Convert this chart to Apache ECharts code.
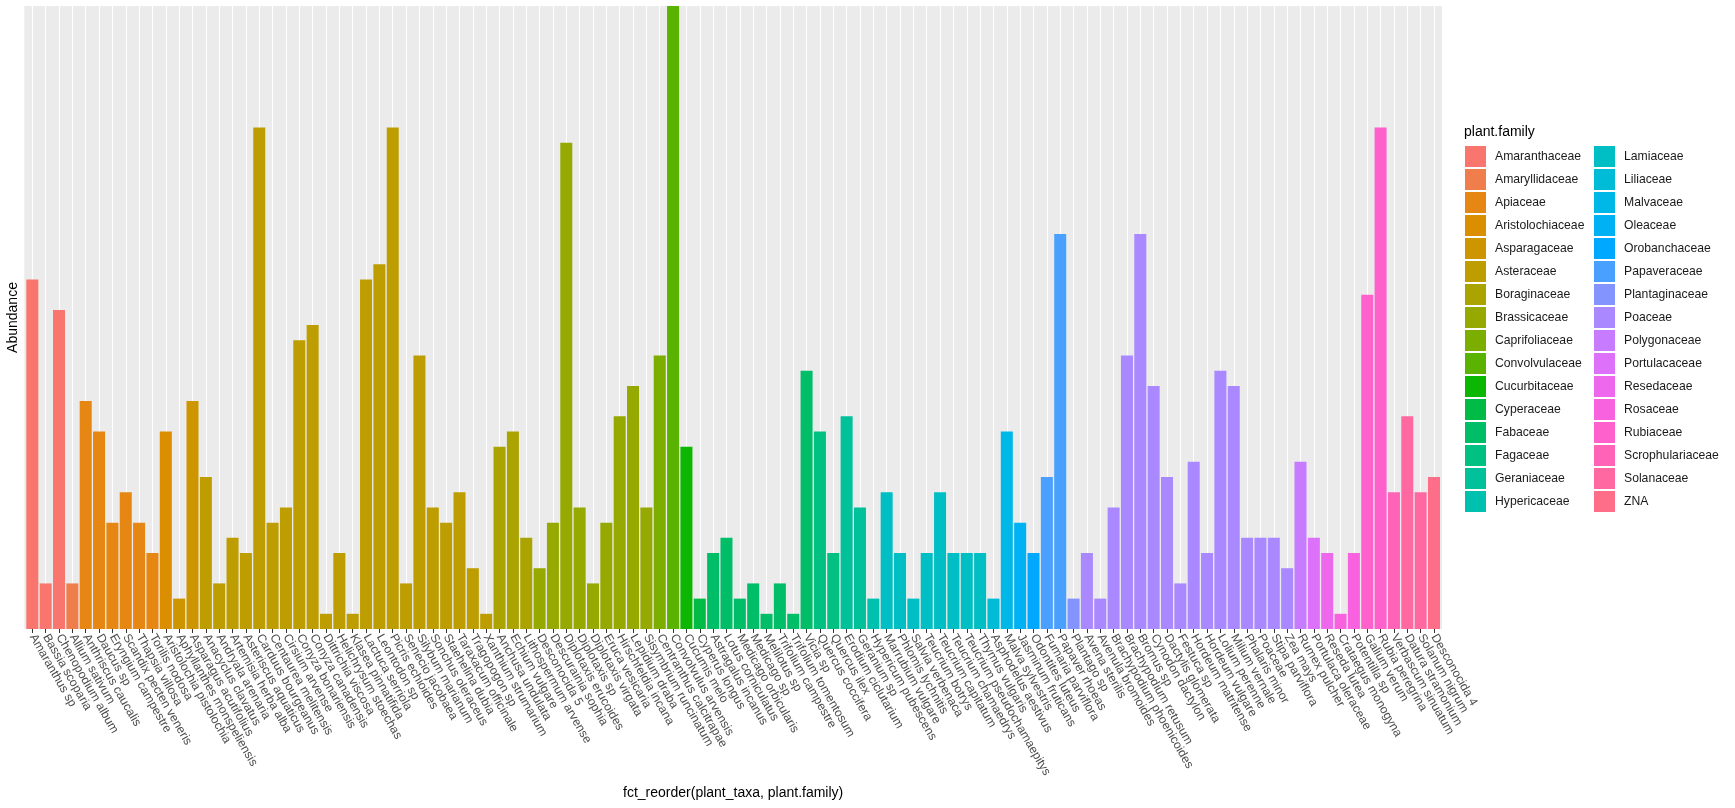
<!DOCTYPE html>
<html>
<head>
<meta charset="utf-8">
<script src="https://cdn.jsdelivr.net/npm/echarts@6/dist/echarts.min.js"></script>
<style>
html,body{margin:0;padding:0;background:#fff;}
#chart{width:1735px;height:808px;}
</style>
</head>
<body>
<div id="chart"></div>
<script>
const taxa = [
"Amaranthus sp","Bassia scoparia","Chenopodium album","Allium sativum",
"Anthriscus caucalis","Daucus sp","Eryngium campestre","Scandix pecten veneris","Thapsia villosa","Torilis nodosa",
"Aristolochia pistolochia","Aphyllanthes monspeliensis","Asparagus acutifolius",
"Anacyclus clavatus","Andryala arenaria","Artemisia herba alba","Asteriscus aquaticus","Carduus bourgeanus","Centaurea melitensis","Cirsium arvense","Conyza bonariensis","Conyza canadensis","Dittrichia viscosa","Helichrysum stoechas","Klasea pinnatifida","Lactuca serriola","Leontodon sp","Picris echioides","Senecio jacobaea","Silybum marianum","Sonchus oleraceus","Staehelina dubia","Taraxacum officinale","Tragopogon sp","Xanthium strumarium",
"Anchusa undulata","Echium vulgare","Lithospermum arvense",
"Desconocida 5","Descurainia sophia","Diplotaxis erucoides","Diplotaxis sp","Diplotaxis virgata","Eruca vesicaria","Hirschfeldia incana","Lepidium draba","Sisymbrium runcinatum",
"Centranthus calcitrapae","Convolvulus arvensis","Cucumis melo","Cyperus longus",
"Astragalus incanus","Lotus corniculatus","Medicago orbicularis","Medicago sp","Melilotus sp","Trifolium campestre","Trifolium tomentosum","Vicia sp",
"Quercus coccifera","Quercus ilex","Erodium ciclutarium","Geranium sp","Hypericum pubescens",
"Marrubium vulgare","Phlomis lychnitis","Salvia verbenaca","Teucrium botrys","Teucrium capitatum","Teucrium chamaedrys","Teucrium pseudochamaepitys","Thymus vulgaris",
"Asphodelus aestivus","Malva sylvestris","Jasminum fruticans","Odontites luteus","Fumaria parviflora","Papaver rhoeas","Plantago sp",
"Avena sterilis","Avenula bromoides","Brachypodium phoenicoides","Brachypodium retusum","Bromus sp","Cynodon dactylon","Dactylis glomerata","Festuca sp","Hordeum matritense","Hordeum vulgare","Lolium perenne","Milium vernale","Phalaris minor","Poaceae","Stipa parviflora","Zea mays",
"Rumex pulcher","Portulaca oleraceae","Reseda lutea","Crataegus monogyna","Potentilla sp","Galium verum","Rubia peregrina","Verbascum sinuatum","Datura stramonium","Solanum nigrum","Desconocida 4"
];

const taxonFamily = [
"Amaranthaceae","Amaranthaceae","Amaranthaceae","Amaryllidaceae",
"Apiaceae","Apiaceae","Apiaceae","Apiaceae","Apiaceae","Apiaceae",
"Aristolochiaceae","Asparagaceae","Asparagaceae",
"Asteraceae","Asteraceae","Asteraceae","Asteraceae","Asteraceae","Asteraceae","Asteraceae","Asteraceae","Asteraceae","Asteraceae","Asteraceae","Asteraceae","Asteraceae","Asteraceae","Asteraceae","Asteraceae","Asteraceae","Asteraceae","Asteraceae","Asteraceae","Asteraceae","Asteraceae",
"Boraginaceae","Boraginaceae","Boraginaceae",
"Brassicaceae","Brassicaceae","Brassicaceae","Brassicaceae","Brassicaceae","Brassicaceae","Brassicaceae","Brassicaceae","Brassicaceae",
"Caprifoliaceae","Convolvulaceae","Cucurbitaceae","Cyperaceae",
"Fabaceae","Fabaceae","Fabaceae","Fabaceae","Fabaceae","Fabaceae","Fabaceae","Fabaceae",
"Fagaceae","Fagaceae","Geraniaceae","Geraniaceae","Hypericaceae",
"Lamiaceae","Lamiaceae","Lamiaceae","Lamiaceae","Lamiaceae","Lamiaceae","Lamiaceae","Lamiaceae",
"Liliaceae","Malvaceae","Oleaceae","Orobanchaceae","Papaveraceae","Papaveraceae","Plantaginaceae",
"Poaceae","Poaceae","Poaceae","Poaceae","Poaceae","Poaceae","Poaceae","Poaceae","Poaceae","Poaceae","Poaceae","Poaceae","Poaceae","Poaceae","Poaceae","Poaceae",
"Polygonaceae","Portulacaceae","Resedaceae","Rosaceae","Rosaceae","Rubiaceae","Rubiaceae","Scrophulariaceae","Solanaceae","Solanaceae","ZNA"
];

const abundance = [
23,3,21,3,
15,13,7,9,7,5,
13,2,15,
10,3,6,5,33,7,8,19,20,1,5,1,23,24,33,3,18,8,7,9,4,1,
12,13,6,
4,7,32,8,3,7,14,16,8,
18,41,12,2,
5,6,2,3,1,3,1,17,
13,5,14,8,2,
9,5,2,5,9,5,5,5,
2,13,7,5,10,26,2,
5,2,8,18,26,16,10,3,11,5,17,16,6,6,6,4,
11,6,5,1,5,22,33,9,14,9,10
];

const families = [
"Amaranthaceae","Amaryllidaceae","Apiaceae","Aristolochiaceae","Asparagaceae","Asteraceae","Boraginaceae","Brassicaceae","Caprifoliaceae","Convolvulaceae","Cucurbitaceae","Cyperaceae","Fabaceae","Fagaceae","Geraniaceae","Hypericaceae",
"Lamiaceae","Liliaceae","Malvaceae","Oleaceae","Orobanchaceae","Papaveraceae","Plantaginaceae","Poaceae","Polygonaceae","Portulacaceae","Resedaceae","Rosaceae","Rubiaceae","Scrophulariaceae","Solanaceae","ZNA"
];

const yMax = 41;

// ggplot2 default hue palette (hcl, c=100, l=65)
function hcl(h, c, l) {
  const WY = 100, WU = 0.1978398, WV = 0.4683363;
  const hr = h * Math.PI / 180;
  const U = c * Math.cos(hr), V = c * Math.sin(hr);
  const Y = WY * (l > 7.999592 ? Math.pow((l + 16) / 116, 3) : l / 903.3);
  const u = U / (13 * l) + WU, v = V / (13 * l) + WV;
  const X = 9 * Y * u / (4 * v);
  const Z = -X / 3 - 5 * Y + 3 * Y / v;
  const g = t => t > 0.00304 ? 1.055 * Math.pow(t, 1 / 2.4) - 0.055 : 12.92 * t;
  const cl = t => Math.round(255 * Math.max(0, Math.min(1, t)));
  const r = cl(g((3.240479 * X - 1.537150 * Y - 0.498535 * Z) / WY));
  const gg = cl(g((-0.969256 * X + 1.875992 * Y + 0.041556 * Z) / WY));
  const b = cl(g((0.055648 * X - 0.204043 * Y + 1.057311 * Z) / WY));
  return 'rgb(' + r + ',' + gg + ',' + b + ')';
}
const palette = families.map((f, i) => hcl(15 + 360 * i / families.length, 100, 65));

const series = families.map((fam, fi) => ({
  name: fam,
  type: 'bar',
  stack: 'all',
  barWidth: '90%',
  z: 3,
  itemStyle: { color: palette[fi] },
  emphasis: { disabled: true },
  data: abundance.map((v, i) => taxonFamily[i] === fam ? v : '-')
}));

series.unshift({
  name: '__grid',
  type: 'line',
  data: [],
  silent: true,
  z: 1,
  markLine: {
    silent: true,
    z: 1,
    symbol: ['none', 'none'],
    animation: false,
    label: { show: false },
    lineStyle: { color: '#ffffff', width: 1.1, type: 'solid' },
    emphasis: { disabled: true },
    data: taxa.map(t => ({ xAxis: t }))
  }
});

const FONT = 'Liberation Sans, Arial, sans-serif';
const panel = { left: 24.3, right: 1442, top: 6, bottom: 629 };
const unitPad = 0.1 * (panel.right - panel.left) / (taxa.length + 0.2);

const legendCommon = {
  orient: 'vertical',
  top: 146,
  padding: 0,
  itemWidth: 21,
  itemHeight: 21,
  itemGap: 2,
  icon: 'rect',
  selectedMode: false,
  textStyle: { fontFamily: FONT, fontSize: 12.2, color: '#1a1a1a', padding: [0, 0, 0, 4] }
};

const option = {
  animation: false,
  backgroundColor: '#ffffff',
  grid: {
    left: panel.left + unitPad,
    right: 1735 - (panel.right - unitPad),
    top: panel.top,
    bottom: 808 - panel.bottom,
    containLabel: false
  },
  xAxis: {
    type: 'category',
    data: taxa,
    boundaryGap: true,
    axisLine: { show: false },
    axisTick: { show: true, alignWithLabel: true, length: 4, lineStyle: { color: '#333333', width: 1 } },
    splitLine: { show: false },
    axisLabel: {
      interval: 0,
      rotate: -60,
      margin: 6,
      fontFamily: FONT,
      fontSize: 12.2,
      color: '#4d4d4d'
    }
  },
  yAxis: {
    type: 'value',
    min: 0,
    max: yMax,
    axisLine: { show: false },
    axisTick: { show: false },
    axisLabel: { show: false },
    splitLine: { show: false }
  },
  legend: [
    Object.assign({}, legendCommon, { left: 1465, data: families.slice(0, 16) }),
    Object.assign({}, legendCommon, { left: 1594, data: families.slice(16) })
  ],
  graphic: [
    {
      type: 'rect', z: 0, silent: true,
      shape: { x: panel.left, y: panel.top, width: panel.right - panel.left, height: panel.bottom - panel.top },
      style: { fill: '#ebebeb' }
    },
    {
      type: 'text', z: 10, x: (panel.left + panel.right) / 2, y: 793,
      style: { text: 'fct_reorder(plant_taxa, plant.family)', fontFamily: FONT, fontSize: 14, fill: '#000', textAlign: 'center', textVerticalAlign: 'middle' }
    },
    {
      type: 'text', z: 10, x: 13.5, y: (panel.top + panel.bottom) / 2, rotation: Math.PI / 2,
      style: { text: 'Abundance', fontFamily: FONT, fontSize: 14, fill: '#000', textAlign: 'center', textVerticalAlign: 'middle' }
    },
    {
      type: 'text', z: 10, x: 1464, y: 132,
      style: { text: 'plant.family', fontFamily: FONT, fontSize: 14, fill: '#000', textAlign: 'left', textVerticalAlign: 'middle' }
    }
  ],
  series: series
};

const chart = echarts.init(document.getElementById('chart'), null, { renderer: 'canvas' });
chart.setOption(option);
</script>
</body>
</html>
